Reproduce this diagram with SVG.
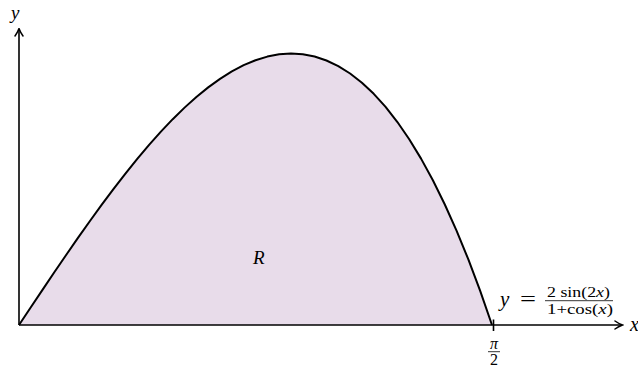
<svg xmlns="http://www.w3.org/2000/svg" width="638" height="369" viewBox="0 0 638 369">
<style>
text{font-family:"Liberation Serif","DejaVu Serif",serif;fill:#000}
.i{font-style:italic}
.ax{stroke:#000;stroke-width:1.6;fill:none}
</style>
<defs>
<marker id="arr" viewBox="0 0 10 10" refX="8.5" refY="5" markerWidth="10" markerHeight="10" markerUnits="userSpaceOnUse" orient="auto">
<path d="M1.5,1 Q5,3.5 9,5 Q5,6.5 1.5,9" fill="none" stroke="#000" stroke-width="1.5" stroke-linecap="round"/>
</marker>
</defs>
<g id="region">
<path d="M19,325 L30.83,307.26 L42.65,289.59 L54.48,272.06 L66.3,254.73 L78.13,237.67 L89.95,220.96 L101.78,204.65 L113.6,188.83 L125.43,173.55 L137.25,158.87 L149.08,144.88 L160.9,131.63 L172.73,119.18 L184.55,107.62 L196.38,96.99 L208.2,87.37 L220.03,78.82 L231.85,71.4 L243.68,65.18 L255.5,60.23 L267.33,56.59 L279.15,54.34 L290.98,53.54 L302.8,54.26 L314.63,56.55 L326.45,60.48 L338.28,66.11 L350.1,73.5 L361.93,82.73 L373.75,93.85 L385.58,106.93 L397.4,122.04 L409.23,139.25 L421.05,158.63 L432.88,180.26 L444.7,204.22 L456.53,230.58 L468.35,259.44 L480.18,290.88 L492,325 Z" fill="#e8dcea" stroke="none"/>
<text class="i" x="253" y="264" font-size="19">R</text>
</g>
<g id="connectors">
<line class="ax" x1="19" y1="325" x2="622" y2="325" marker-end="url(#arr)"/>
<line class="ax" x1="19" y1="325" x2="19" y2="29" marker-end="url(#arr)"/>
<line class="ax" x1="493.5" y1="319.5" x2="493.5" y2="331"/>
</g>
<g id="curve">
<polyline points="19,325 30.83,307.26 42.65,289.59 54.48,272.06 66.3,254.73 78.13,237.67 89.95,220.96 101.78,204.65 113.6,188.83 125.43,173.55 137.25,158.87 149.08,144.88 160.9,131.63 172.73,119.18 184.55,107.62 196.38,96.99 208.2,87.37 220.03,78.82 231.85,71.4 243.68,65.18 255.5,60.23 267.33,56.59 279.15,54.34 290.98,53.54 302.8,54.26 314.63,56.55 326.45,60.48 338.28,66.11 350.1,73.5 361.93,82.73 373.75,93.85 385.58,106.93 397.4,122.04 409.23,139.25 421.05,158.63 432.88,180.26 444.7,204.22 456.53,230.58 468.35,259.44 480.18,290.88 492,325" fill="none" stroke="#000" stroke-width="2" stroke-linejoin="round"/>
</g>
<g id="labels">
<text class="i" x="11" y="19" font-size="19">y</text>
<text class="i" x="630" y="331" font-size="20">x</text>
<text class="i" x="494" y="349" font-size="16" text-anchor="middle">π</text>
<line x1="488" y1="351.7" x2="500" y2="351.7" stroke="#000" stroke-width="0.8"/>
<text x="494" y="365" font-size="16" text-anchor="middle">2</text>
<text class="i" x="500" y="306" font-size="21">y</text>
<text x="520" y="306" font-size="21" textLength="16" lengthAdjust="spacingAndGlyphs">=</text>
<text x="547" y="297" font-size="15" textLength="63" lengthAdjust="spacingAndGlyphs">2 sin(2<tspan class="i">x</tspan>)</text>
<line x1="545" y1="300.7" x2="613" y2="300.7" stroke="#000" stroke-width="0.8"/>
<text x="547" y="313.5" font-size="15" textLength="66" lengthAdjust="spacingAndGlyphs">1+cos(<tspan class="i">x</tspan>)</text>
</g>
</svg>
